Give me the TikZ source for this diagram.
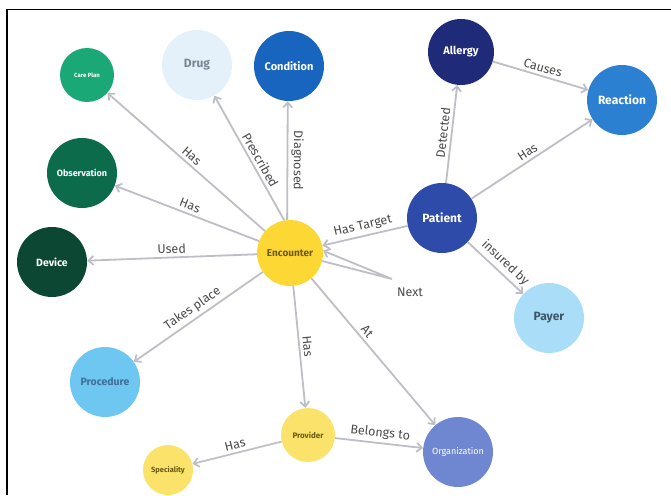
\documentclass[tikz,border=0pt]{standalone}
\usepackage{fontspec}
\setmainfont{Fira Sans}
\usepackage{xcolor}
\usetikzlibrary{arrows.meta}

\definecolor{careplan}{HTML}{1BA877}
\definecolor{drugc}{HTML}{E4F1FB}
\definecolor{condc}{HTML}{1765BF}
\definecolor{obsc}{HTML}{0C6B4B}
\definecolor{devc}{HTML}{0B4733}
\definecolor{encc}{HTML}{FDD835}
\definecolor{allc}{HTML}{1F2A78}
\definecolor{reacc}{HTML}{2B80D1}
\definecolor{patc}{HTML}{2F4BA9}
\definecolor{payc}{HTML}{AADDF7}
\definecolor{orgc}{HTML}{6F87D1}
\definecolor{procc}{HTML}{6EC7F1}
\definecolor{provc}{HTML}{FBE26B}
\definecolor{linkc}{HTML}{BEBEC6}
\definecolor{labc}{HTML}{4A4A4A}
\definecolor{drugtxt}{HTML}{7A8591}
\definecolor{paytxt}{HTML}{3E5667}
\definecolor{proctxt}{HTML}{3F6E98}
\definecolor{enctxt}{HTML}{6B5A12}

\begin{document}
\begin{tikzpicture}[
    x=1pt, y=-1pt,
    ent/.style={circle, minimum size=70pt, inner sep=0pt, font=\bfseries\fontsize{11}{12}\selectfont},
    small/.style={ent, minimum size=54pt},
    link/.style={-{Straight Barb[length=5pt, width=9pt]}, draw=linkc, line width=1.8pt},
    lbl/.style={font=\fontsize{12.5}{13}\selectfont, text=labc, sloped, inner sep=3pt},
]
\useasboundingbox (0,0) rectangle (671,495);

% === Frame ===
\draw[line width=1.5pt] (7,495) -- (7,9.5) -- (671,9.5);

% === Entities ===
\node[small, fill=careplan, text=white, font=\bfseries\fontsize{6}{7}\selectfont] (care) at (87,75) {Care Plan};
\node[ent, fill=drugc, text=drugtxt, font=\bfseries\fontsize{12}{13}\selectfont] (drug) at (197,65) {Drug};
\node[ent, fill=condc, text=white] (cond) at (289,66) {Condition};
\node[ent, fill=obsc, text=white, font=\bfseries\fontsize{9}{10}\selectfont] (obs) at (82,173) {Observation};
\node[ent, fill=devc, text=white, font=\bfseries\fontsize{10.5}{12}\selectfont] (dev) at (52,262) {Device};
\node[ent, fill=encc, text=enctxt, minimum size=66pt, font=\bfseries\fontsize{10}{11}\selectfont] (enc) at (290,253) {Encounter};
\node[ent, fill=allc, text=white, minimum size=66pt] (all) at (461,52) {Allergy};
\node[ent, fill=reacc, text=white, font=\bfseries\fontsize{12}{13}\selectfont] (reac) at (622,100) {Reaction};
\node[ent, fill=patc, text=white, font=\bfseries\fontsize{12}{13}\selectfont] (pat) at (442,218) {Patient};
\node[ent, fill=payc, text=paytxt, font=\bfseries\fontsize{12}{13}\selectfont] (pay) at (549,318) {Payer};
\node[ent, fill=orgc, text=white, font=\fontsize{9}{10}\selectfont] (org) at (458,452) {Organization};
\node[ent, fill=procc, text=proctxt, font=\bfseries\fontsize{10.5}{12}\selectfont] (proc) at (105,382) {Procedure};
\node[small, fill=provc, text=enctxt, font=\bfseries\fontsize{8}{9}\selectfont] (prov) at (308,435) {Provider};
\node[small, fill=provc, text=enctxt, minimum size=50pt, font=\bfseries\fontsize{7.5}{8}\selectfont] (spec) at (168,470) {Speciality};

% === Encounter edges ===
\draw[link] (enc) -- node[lbl, above] {Has} (care);
\draw[link] (enc) -- node[lbl, above] {Has} (obs);
\draw[link] (enc) -- node[lbl, above] {Used} (dev);
\draw[link] (enc) -- node[lbl, above] {Takes place} (proc);
\draw[link] (enc.100) -- node[lbl, above, pos=0.45] {Prescribed} (drug);
\draw[link] (enc.95) -- node[lbl, above, pos=0.5, rotate=180] {Diagnosed} (cond.-92);
\draw[link] (enc) -- node[lbl, above] {Has} (prov);
\draw[link] (enc) -- node[lbl, above, pos=0.4] {At} (org);

% === Next loop ===
\coordinate (nextTip) at (392,279);
\draw[link] (enc.-14) -- (nextTip) -- (enc.4);
\node[font=\fontsize{12.5}{13}\selectfont, text=labc] (nextlbl) at (410,292) {Next};

% === Patient edges ===
\draw[link] (pat) -- node[lbl, above] {Has Target} (enc);
\draw[link] (pat) -- node[lbl, above] {Detected} (all);
\draw[link] (pat) -- node[lbl, above] {Has} (reac);
\draw[link] (pat) -- node[lbl, above, pos=0.55] {insured by} (pay);
\draw[link] (all) -- node[lbl, above] {Causes} (reac);

% === Provider edges ===
\draw[link] (prov) -- node[lbl, above] {Has} (spec);
\draw[link] (prov) -- node[lbl, above] {Belongs to} (org);

\end{tikzpicture}
\end{document}
